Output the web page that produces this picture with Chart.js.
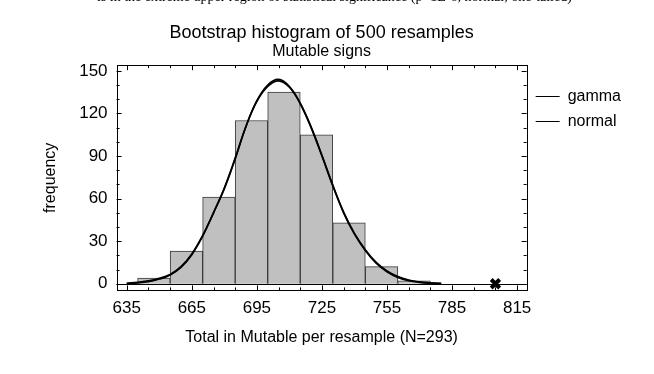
<!DOCTYPE html>
<html>
<head>
<meta charset="utf-8">
<script src="https://cdn.jsdelivr.net/npm/chart.js@4.4.1/dist/chart.umd.min.js"></script>
<style>
  html, body { margin: 0; padding: 0; background: #fff; }
  #wrap { position: relative; width: 654px; height: 374px; overflow: hidden; }
  #note {
    position: absolute; top: -11px; left: 97px; white-space: nowrap;
    font-family: 'Liberation Serif', serif; font-size: 14px; color: #000;
  }
</style>
</head>
<body>
<div id="wrap">
  <div id="note">is in the extreme upper region of statistical significance (p&lt;1E-6, normal, one-tailed)</div>
  <canvas id="chart"></canvas>
</div>
<script>
// histogram bins (15 wide) and counts
const binCenters = [647.5, 662.5, 677.5, 692.5, 707.5, 722.5, 737.5, 752.5, 767.5];
const binCounts = [4, 23, 61, 115, 135, 105, 43, 12, 2];

// fitted curves, every 5 units
const curveX = [635, 640, 645, 650, 655, 660, 665, 670, 675, 680, 685, 690, 695, 700, 705,
                710, 715, 720, 725, 730, 735, 740, 745, 750, 755, 760, 765, 770, 775, 780];
const normalFit = [0.3, 1, 2, 3.8, 6.5, 12, 21, 34, 50, 67, 88, 111, 129, 140, 144,
                   139, 127, 110, 90, 69, 50, 35, 23.5, 14.5, 8.5, 4.5, 2.2, 1, 0.4, 0.1];
const gammaFit = [0.1, 0.6, 1.5, 3.3, 6.2, 11.5, 20.5, 33.5, 50, 67.5, 88.5, 111, 128.5, 139, 143,
                  138.5, 127, 110.5, 90.5, 69.5, 50.5, 35.5, 24, 15, 9, 5, 2.6, 1.3, 0.6, 0.2];

// observed value in the real data
const observedTotal = 805;

const xTickValues = [635, 665, 695, 725, 755, 785, 815];
const yTickValues = [0, 30, 60, 90, 120, 150];

const FONT = "'Liberation Sans', Arial, sans-serif";

// box frame, zero line and inward ticks on all four sides
const frameTicks = {
  id: 'frameTicks',
  afterDatasetsDraw(chart) {
    const { ctx, chartArea: a, scales: { x, y } } = chart;
    ctx.save();
    ctx.strokeStyle = '#000';
    ctx.lineWidth = 1;
    ctx.beginPath();
    const y0 = Math.round(y.getPixelForValue(0)) + 0.5;
    ctx.moveTo(a.left, y0);
    ctx.lineTo(a.right, y0);
    ctx.stroke();
    ctx.strokeRect(Math.round(a.left) + 0.5, Math.round(a.top) + 0.5,
                   Math.round(a.right - a.left), Math.round(a.bottom - a.top));
    ctx.beginPath();
    for (let v = 635; v <= 815; v += 10) {
      const px = Math.round(x.getPixelForValue(v)) + 0.5;
      const len = (v - 635) % 30 === 0 ? 5 : 3;
      ctx.moveTo(px, a.bottom); ctx.lineTo(px, a.bottom - len);
      ctx.moveTo(px, a.top); ctx.lineTo(px, a.top + len);
    }
    for (let v = 0; v <= 150; v += 10) {
      const py = Math.round(y.getPixelForValue(v)) + 0.5;
      const len = v % 30 === 0 ? 5 : 3;
      ctx.moveTo(a.left, py); ctx.lineTo(a.left + len, py);
      ctx.moveTo(a.right, py); ctx.lineTo(a.right - len, py);
    }
    ctx.stroke();
    ctx.restore();
  }
};

const curve = (ys) => curveX.map((v, i) => ({ x: v, y: ys[i] }));

new Chart(document.getElementById('chart'), {
  data: {
    datasets: [
      {
        type: 'line',
        label: 'gamma',
        data: curve(gammaFit),
        borderColor: '#000',
        backgroundColor: '#000',
        borderWidth: 1.7,
        pointRadius: 0,
        tension: 0.4,
        order: 1
      },
      {
        type: 'line',
        label: 'normal',
        data: curve(normalFit),
        borderColor: '#000',
        backgroundColor: '#000',
        borderWidth: 1.7,
        pointRadius: 0,
        tension: 0.4,
        order: 1
      },
      {
        type: 'scatter',
        label: 'observed',
        data: [{ x: observedTotal, y: 0 }],
        pointStyle: 'crossRot',
        pointRadius: 6,
        borderColor: '#000',
        borderWidth: 4,
        order: 0
      },
      {
        type: 'bar',
        label: 'resamples',
        data: binCenters.map((c, i) => ({ x: c, y: binCounts[i] })),
        backgroundColor: '#c0c0c0',
        borderColor: '#3a3a3a',
        borderWidth: 1,
        barPercentage: 1,
        categoryPercentage: 1,
        order: 2
      }
    ]
  },
  options: {
    responsive: true,
    maintainAspectRatio: false,
    animation: false,
    layout: { padding: { left: 31, right: 23, top: 24, bottom: 27 } },
    plugins: {
      title: {
        display: true,
        fullSize: false,
        text: 'Bootstrap histogram of 500 resamples',
        color: '#000',
        font: { family: FONT, size: 18, weight: 'normal', lineHeight: 1 },
        padding: { top: 0, bottom: 0 }
      },
      subtitle: {
        display: true,
        fullSize: false,
        text: 'Mutable signs',
        color: '#000',
        font: { family: FONT, size: 16, weight: 'normal' },
        padding: { top: 0, bottom: 4 }
      },
      legend: {
        position: 'right',
        align: 'start',
        fullSize: false,
        title: {
          display: true,
          text: ' ',
          font: { family: FONT, size: 12 },
          padding: 0
        },
        labels: {
          boxWidth: 24,
          boxHeight: 1,
          padding: 9,
          color: '#000',
          font: { family: FONT, size: 16 },
          filter: (item) => item.text === 'gamma' || item.text === 'normal',
          generateLabels: (chart) =>
            Chart.defaults.plugins.legend.labels.generateLabels(chart).map((l) => ({
              ...l, lineWidth: 0, fillStyle: '#000', strokeStyle: '#000'
            }))
        }
      },
      tooltip: { enabled: false }
    },
    scales: {
      x: {
        type: 'linear',
        offset: false,
        min: 630.3,
        max: 819.4,
        grid: { display: false, drawTicks: false, tickLength: 0, offset: false },
        border: { display: false },
        afterBuildTicks: (axis) => { axis.ticks = xTickValues.map((v) => ({ value: v })); },
        ticks: {
          color: '#000',
          font: { family: FONT, size: 17 },
          padding: 8,
          autoSkip: false,
          maxRotation: 0
        },
        title: {
          display: true,
          text: 'Total in Mutable per resample (N=293)',
          color: '#000',
          font: { family: FONT, size: 16 },
          padding: { top: 1, bottom: 0 }
        }
      },
      y: {
        type: 'linear',
        min: -4.7,
        max: 154,
        grid: { display: false, drawTicks: false, tickLength: 0 },
        border: { display: false },
        afterBuildTicks: (axis) => { axis.ticks = yTickValues.map((v) => ({ value: v })); },
        ticks: {
          color: '#000',
          font: { family: FONT, size: 17 },
          padding: 9
        },
        title: {
          display: true,
          text: 'frequency',
          color: '#000',
          font: { family: FONT, size: 16 },
          padding: { top: 10, bottom: 10 }
        }
      }
    }
  },
  plugins: [frameTicks]
});
</script>
</body>
</html>
